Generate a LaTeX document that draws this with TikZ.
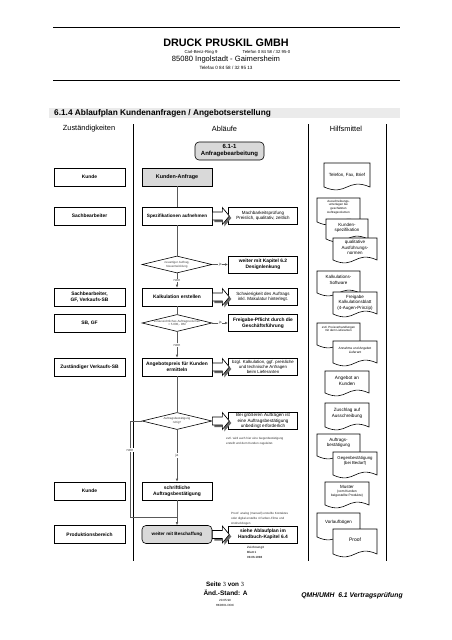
\documentclass[tikz,border=0pt]{standalone}
\usepackage{fontspec}
\setmainfont{Liberation Sans}
\newfontfamily\serifnum{Liberation Serif}
\usetikzlibrary{shapes.geometric,arrows.meta}
\newcommand\fs[2]{\fontsize{#1}{#2}\selectfont}
\tikzset{
 lbox/.style={draw, line width=0.6pt, minimum width=71pt, minimum height=18pt, inner sep=0pt, align=center, font=\fs{4.9}{5.9}\bfseries},
 mbox/.style={draw, line width=0.6pt, minimum width=70pt, minimum height=18pt, inner sep=0pt, align=center, font=\fs{4.9}{5.9}\bfseries},
 gbox/.style={mbox, fill=black!15, rounded corners=4pt},
 nbox/.style={draw, line width=0.6pt, minimum width=69pt, minimum height=17pt, inner sep=0pt, align=center, font=\fs{4.5}{5.6}},
 nboxb/.style={nbox, line width=0.8pt, font=\fs{4.85}{6.2}\bfseries},
 dia/.style={draw, line width=0.6pt, diamond, minimum width=70pt, minimum height=17pt, inner sep=0pt},
 diat/.style={font=\fs{3}{3.6}, align=center, text=black!75},
 conn/.style={draw=black!65, line width=0.8pt},
 arr/.style={conn, -{Latex[length=3pt,width=2.6pt]}},
 lbl/.style={fill=white, inner sep=0.6pt, font=\fs{3.6}{4}, text=black!75},
 docp/.style={draw, line width=0.6pt, fill=white},
 doct/.style={align=center, inner sep=0pt},
 tiny/.style={inner sep=0pt, align=left, font=\fs{3}{4.9}, text=black!80},
}
% #1 font, #2 name, #3 x1, #4 y1, #5 x2, #6 y2, #7 text y, #8 text
\newcommand\docu[8][\fs{4.5}{5.6}]{%
 \path[docp] (#3,#4) -- (#5,#4) -- (#5,#6-3) .. controls ({(#3+#5)/2},#6-13) and ({(#3+#5)/2},#6+7) .. (#3,#6-3) -- cycle;
 \node[doct,font=#1] (#2) at ({(#3+#5)/2},#7) {#8};}
\newcommand\blockarr[1]{%
 \begin{scope}[shift={(#1)}]
 \fill[black!60] (2,-2) -- (12,-2) -- (12,-6.5) -- (19,2) -- (12,10.5) -- (12,6) -- (2,6) -- cycle;
 \draw[fill=white, line width=0.6pt] (0,-4) -- (10,-4) -- (10,-8.5) -- (17,0) -- (10,8.5) -- (10,4) -- (0,4) -- cycle;
 \end{scope}}
\begin{document}
\begin{tikzpicture}[x=1pt,y=-1pt]
\useasboundingbox (0,0) rectangle (452,640);
\fill[white] (0,0) rectangle (452,640);
% header
\draw[line width=0.8pt] (53,27) -- (400,27);
\draw[line width=0.8pt] (53,80) -- (400,80);
\node[font=\fs{10.8}{12}\bfseries] (firm) at (226,43) {DRUCK PRUSKIL GMBH};
\node[font=\fs{4.3}{5}] (str) at (201,52) {Carl-Benz-Ring 9};
\node[font=\fs{4.3}{5}] (tel) at (266.5,52) {Telefon 0 84 58 / 32 95-0};
\node[font=\fs{7.6}{9}] (ort) at (226,60) {85080 Ingolstadt - Gaimersheim};
\node[font=\fs{4.6}{5}] (fax) at (226,68) {Telefax 0 84 58 / 32 95 13};
% section title
\fill[black!8] (49,108) rectangle (400,118);
\node[anchor=west, font=\fs{8.3}{9}\bfseries, inner sep=0pt] (titel) at (54,113) {6.1.4 Ablaufplan Kundenanfragen / Angebotserstellung};
% column heads
\node[font=\fs{7.4}{8.5}] (h1) at (89,129) {Zuständigkeiten};
\node[font=\fs{7.4}{8.5}] (h2) at (224.5,129) {Abläufe};
\node[font=\fs{7.4}{8.5}] (h3) at (346,129) {Hilfsmittel};
% dividers
\draw[line width=0.6pt] (133,124) -- (133,561);
\draw[line width=0.6pt] (308,124) -- (308,561);
\draw[line width=0.6pt] (386,124) -- (386,561);
% left column
\node[lbox] (l1) at (89.5,177) {Kunde};
\node[lbox] (l2) at (89.5,216) {Sachbearbeiter};
\node[lbox] (l3) at (89.5,297) {Sachbearbeiter,\\GF, Verkaufs-SB};
\node[lbox] (l4) at (89.5,323) {SB, GF};
\node[lbox] (l5) at (89.5,367) {Zuständiger Verkaufs-SB};
\node[lbox] (l6) at (89.5,491) {Kunde};
\node[lbox] (l7) at (89.5,534.5) {Produktionsbereich};
% middle column
\node[gbox, minimum width=69pt, font=\fs{6}{7}\bfseries] (anf) at (229.5,151) {6.1-1\\Anfragebearbeitung};
\node[mbox, fill=black!15, font=\fs{5.4}{6.4}\bfseries] (ka) at (177,177) {Kunden-Anfrage};
\node[mbox, font=\fs{4.65}{5.6}\bfseries] (spez) at (177,216) {Spezifikationen aufnehmen};
\node[dia] (d1) at (177,264.5) {};
\node[diat] (d1t) at (d1) {neuartiger Auftrag,\\Neuentwicklung};
\node[mbox] (kalk) at (177,297) {Kalkulation erstellen};
\node[dia] (d2) at (177,323) {};
\node[diat] (d2t) at (d2) {voraussichtliches Auftragsvolumen\\> 5.000,- DM};
\node[mbox] (ang) at (177,367) {Angebotspreis für Kunden\\ermitteln};
\node[dia] (d3) at (177,421) {};
\node[diat] (d3t) at (d3) {Auftragsbestätigung\\nötig?};
\node[mbox] (schr) at (177,491) {schriftliche\\Auftragsbestätigung};
\node[gbox, font=\fs{4.6}{5.6}\bfseries] (weiter) at (177,534.5) {weiter mit Beschaffung};
% connectors middle
\draw[conn] (ka) -- (spez);
\draw[conn] (spez) -- (d1);
\draw[arr] (d1.south) -- node[lbl]{nein} (kalk.north);
\draw[conn] (kalk) -- (d2);
\draw[arr] (d2.south) -- node[lbl]{nein} (ang.north);
\draw[conn] (ang) -- (d3);
\draw[arr] (d3.south) -- node[lbl]{ja} (schr.north);
\draw[arr] (schr.south) -- (weiter.north);
\coordinate (nl1) at (130,421);
\coordinate (nl2) at (130,517);
\draw[conn] (d3.west) -- (nl1) -- node[lbl,pos=0.3]{nein} (nl2) -- (nl2 -| weiter.north);
% notes
\node[nbox] (n1) at (263,216) {Machbarkeitsprüfung\\Preislich, qualitativ, zeitlich};
\node[nboxb] (n2) at (263,264.5) {weiter mit Kapitel 6.2\\Designlenkung};
\node[nbox] (n3) at (263,297) {Schwierigkeit des Auftrags\\inkl. Makulatur hinterlegt.};
\node[nboxb] (n4) at (263,323) {Freigabe-Pflicht durch die\\Geschäftsführung};
\node[nbox, font=\fs{4.35}{5.3}] (n5) at (263,367) {bzgl. Kalkulation, ggf. preisliche\\und technische Anfragen\\beim Lieferanten};
\node[nbox, font=\fs{4.6}{5.6}] (n6) at (263,421) {Bei größeren Aufträgen ist\\eine Auftragsbestätigung\\unbedingt erforderlich};
\node[nboxb] (n7) at (263,534.5) {siehe Ablaufplan im\\Handbuch-Kapitel 6.4};
\draw[arr] (d1.east) -- node[lbl]{ja} (n2.west);
\draw[arr] (d2.east) -- node[lbl]{ja} (n4.west);
\blockarr{spez.east}
\blockarr{kalk.east}
\blockarr{ang.east}
\blockarr{d3.east}
\blockarr{weiter.east}
\node[tiny, anchor=north west] (ev) at (226,437.5) {evtl. wird auch hier eine Gegenbestätigung\\erstellt und dem Kunden zugeleitet.};
\node[tiny, anchor=north west] (pr) at (231,512.5) {Proof: analog (manuell) erstellte Kontaktes\\oder digital erstellte 4 Farben-Filme und\\Andruckbogen};
\node[tiny, anchor=north west, font=\fs{3}{4.9}\bfseries] (zb) at (247,546.5) {Zeichnung3\\Blatt 1\\09.06.1998};
% Hilfsmittel documents
\docu{telefon}{324}{163}{370}{190}{175.5}{Telefon, Fax, Brief}
\docu[\fs{3}{3.7}]{aus}{317}{198}{360}{225}{207}{Ausschreibungs-\\unterlagen bei\\geschätzten\\Auftragsvolumen}
\docu{kspez}{326}{219}{368}{242}{228}{Kunden-\\spezifikation}
\docu{qual}{333}{238}{377}{263}{247.5}{qualitative\\Ausführungs-\\normen}
\docu{kalks}{317}{271}{360}{296}{280}{Kalkulations-\\Software}
\docu{freig}{333}{292}{377}{317}{302.5}{Freigabe\\Kalkulationsblatt\\(4-Augen-Prinzip)}
\docu[\fs{3}{3.7}]{preisv}{317}{323}{360}{348}{329}{evtl. Preisverhandlungen\\mit dem Lieferanten}
\docu[\fs{3.2}{3.9}]{annahme}{333}{341}{377}{366}{350}{Annahme und Angebot\\Lieferant}
\docu[\fs{4.7}{5.8}]{angebot}{325}{371}{369}{396}{381}{Angebot an\\Kunden}
\docu[\fs{4.6}{5.8}]{zuschlag}{325}{403}{369}{430}{413}{Zuschlag auf\\Ausschreibung}
\docu{auftr}{317}{434}{360}{459}{443}{Auftrags-\\bestätigung}
\docu[\fs{4.3}{5.4}]{gegen}{333}{452}{377}{478}{461}{Gegenbestätigung\\(bei Bedarf)}
\docu[\fs{3.3}{4}]{muster}{325}{482}{369}{508}{491}{{\fs{4.5}{5.2}Muster}\\(vom Kunden\\beigestellte Produkte)}
\docu{vorl}{317}{513}{360}{540}{522}{Vorlaufbögen}
\docu[\fs{5}{6}]{proof}{333}{529}{377}{557}{540}{Proof}
% footer
\node[font=\fs{6.3}{7}\bfseries] (seite) at (225,584) {Seite {\serifnum\mdseries 3} von {\serifnum\mdseries 3}};
\node[font=\fs{6.5}{7.5}\bfseries] (stand) at (225.5,593) {Änd.-Stand: A};
\node[font=\fs{3}{3.5}] (dat) at (225,600) {20.05.99};
\node[font=\fs{3}{3.5}] (doc) at (225,605) {HK0601.DOC};
\node[font=\fs{6.8}{7.5}\bfseries\itshape] (qmh) at (352,595.5) {QMH/UMH\ \ 6.1 Vertragsprüfung};
\end{tikzpicture}
\end{document}
